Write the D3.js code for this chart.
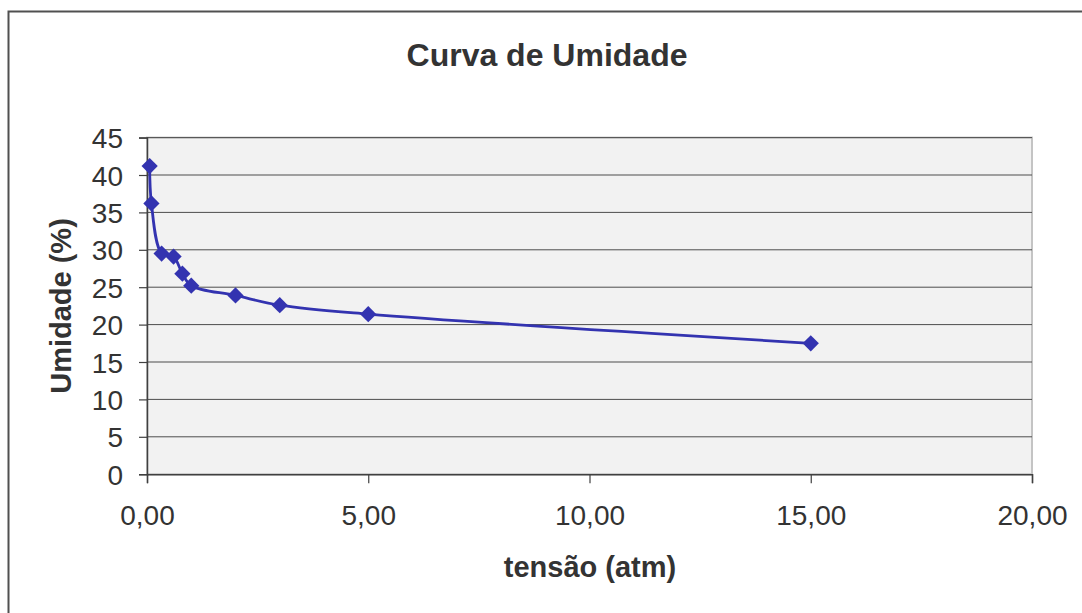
<!DOCTYPE html>
<html>
<head>
<meta charset="utf-8">
<script src="https://cdn.jsdelivr.net/npm/d3@7"></script>
<style>
  body { margin: 0; background: #fff; }
  text { font-family: "Liberation Sans", Arial, sans-serif; fill: #333; }
</style>
</head>
<body>
<script>
        // data
        const tensao = [0.06, 0.1, 0.33, 0.6, 0.8, 1, 2, 3, 5, 15];
        const umidade = [41.2, 36.2, 29.5, 29.1, 26.8, 25.2, 23.9, 22.6, 21.4, 17.5];
        const xTicks = [0, 5, 10, 15, 20];
        const yTicks = [0, 5, 10, 15, 20, 25, 30, 35, 40, 45];
        const points = tensao.map((t, i) => ({ x: t, y: umidade[i] }));

        const width = 1082, height = 613;
        const plot = { left: 147, right: 1032, top: 137.6, bottom: 474.2 };

        const svg = d3.select("body")
            .append("svg")
            .attr("width", width)
            .attr("height", height);

        // chart frame (runs off the right/bottom edge)
        svg.append("rect")
            .attr("x", 8.5)
            .attr("y", 11.5)
            .attr("width", width + 20)
            .attr("height", height + 20)
            .attr("fill", "#fff")
            .attr("stroke", "#505050")
            .attr("stroke-width", 2);

        const x = d3.scaleLinear().domain([0, 20]).range([plot.left, plot.right]);
        const y = d3.scaleLinear().domain([0, 45]).range([plot.bottom, plot.top]);

        // plot area
        svg.append("rect")
            .attr("x", plot.left)
            .attr("y", plot.top)
            .attr("width", plot.right - plot.left)
            .attr("height", plot.bottom - plot.top)
            .attr("fill", "#f2f2f2")
            .attr("stroke", "#c4c4c4")
            .attr("stroke-width", 2);

        // gridlines
        svg.append("g")
            .selectAll("line")
            .data(yTicks.filter(d => d > 0))
            .enter()
            .append("line")
            .attr("x1", plot.left)
            .attr("x2", plot.right)
            .attr("y1", d => y(d))
            .attr("y2", d => y(d))
            .attr("stroke", "#4d4d4d")
            .attr("stroke-width", 1);

        // axes
        const yAxis = svg.append("g")
            .attr("transform", `translate(${plot.left},0)`)
            .call(d3.axisLeft(y).tickValues(yTicks).tickSize(8).tickPadding(16).tickFormat(d3.format("d")));
        const xAxis = svg.append("g")
            .attr("transform", `translate(0,${plot.bottom})`)
            .call(d3.axisBottom(x).tickValues(xTicks).tickSize(9).tickPadding(22)
                .tickFormat(d => d3.format(".2f")(d).replace(".", ",")));

        [yAxis, xAxis].forEach(a => {
            a.select(".domain").attr("stroke", "#404040").attr("stroke-width", 1.5);
            a.selectAll(".tick line").attr("stroke", "#404040").attr("stroke-width", 1.2);
            a.selectAll(".tick text")
                .attr("fill", "#333")
                .style("font-size", "28px")
                .style("font-family", "Liberation Sans, Arial, sans-serif");
        });
        yAxis.selectAll(".tick text").attr("dy", "0.36em");

        // smoothed line
        const line = d3.line()
            .curve(d3.curveCatmullRom)
            .x(d => x(d.x))
            .y(d => y(d.y));

        svg.append("path")
            .datum(points)
            .attr("d", line)
            .attr("fill", "none")
            .attr("stroke", "#3333b0")
            .attr("stroke-width", 2.8);

        // diamond markers
        svg.append("g")
            .selectAll("path")
            .data(points)
            .enter()
            .append("path")
            .attr("d", d3.symbol(d3.symbolSquare, 132))
            .attr("transform", d => `translate(${x(d.x)},${y(d.y)}) rotate(45)`)
            .attr("fill", "#3333b0");

        // titles
        svg.append("text")
            .attr("x", 547)
            .attr("y", 66)
            .attr("text-anchor", "middle")
            .style("font-size", "32px")
            .style("font-weight", "bold")
            .text("Curva de Umidade");

        svg.append("text")
            .attr("x", 590)
            .attr("y", 577)
            .attr("text-anchor", "middle")
            .style("font-size", "29px")
            .style("font-weight", "bold")
            .text("tensão (atm)");

        svg.append("text")
            .attr("transform", "translate(71,306) rotate(-90)")
            .attr("text-anchor", "middle")
            .style("font-size", "29px")
            .style("font-weight", "bold")
            .text("Umidade (%)");
</script>
</body>
</html>
